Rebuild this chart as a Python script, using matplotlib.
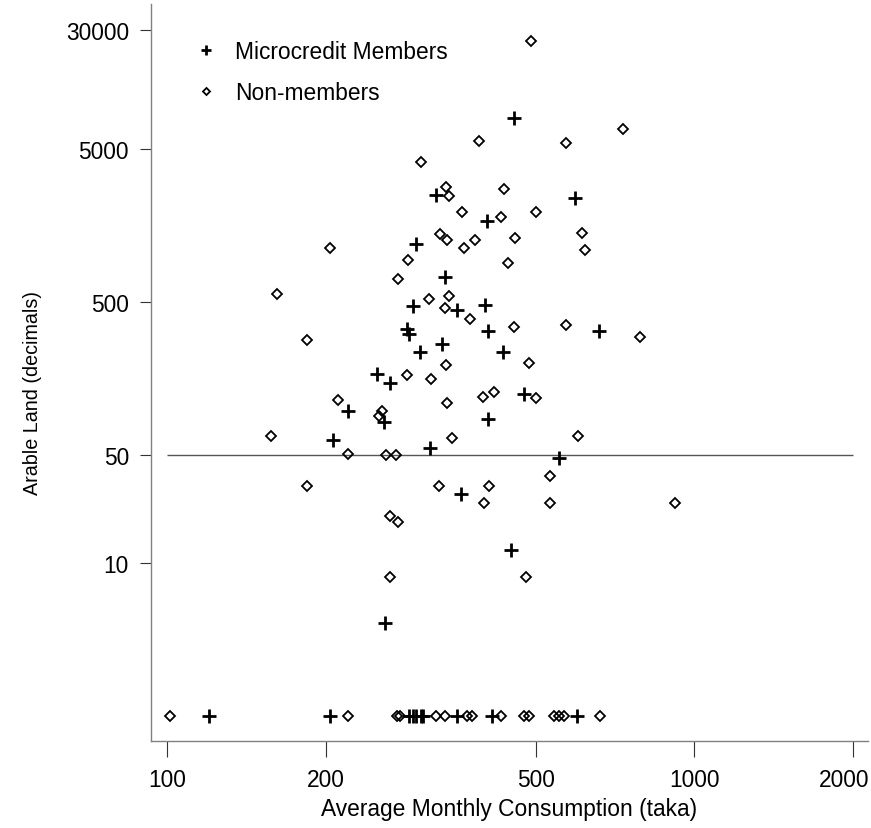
import matplotlib
matplotlib.use("Agg")
import matplotlib.pyplot as plt
import matplotlib.transforms as mtransforms

# households with land (x = consumption, y = arable land)
member_x = [454, 324, 593, 404, 297, 336, 292, 354, 401, 285, 288, 406, 659, 332,
            302, 434, 250, 265, 476, 220, 258, 406, 206, 315, 553, 361, 449, 259]
member_y = [8000, 2500, 2400, 1700, 1200, 730, 472, 445, 477, 336, 311, 326, 326, 266,
            238, 238, 171, 148, 126, 97, 83, 86, 63, 56, 48.5, 28, 12, 4]
# landless members (shown on the bottom row)
member_zero_x = [120, 204, 287, 292, 296, 303, 306, 354, 413, 600]

nonmember_x = [490, 731, 391, 571, 303, 338, 343, 436, 363, 500, 430, 329, 340, 383,
               457, 612, 204, 366, 621, 286, 444, 274, 161.5, 314, 343, 336, 376, 454,
               571, 790, 184, 485, 338, 285, 317, 211, 255.5, 252, 340, 398, 417, 500,
               157, 347, 602, 220, 260, 272, 184, 327.5, 407, 533, 399, 533, 919, 265,
               274, 265, 480]
nonmember_y = [25500, 6800, 5700, 5500, 4100, 2850, 2460, 2765, 1957, 1957, 1793, 1390,
               1270, 1273, 1309, 1426, 1135, 1131, 1101, 951, 899, 712, 566, 527, 554,
               462, 388, 346, 358, 299, 283, 200, 195, 168, 159, 116, 97.5, 90, 110, 120,
               130, 119, 67, 65, 67, 51.5, 50, 50, 31.6, 31.6, 31.6, 36.5, 24.3, 24.3,
               24.3, 20, 18.3, 8, 8]
nonmember_zero_x = [101, 220, 273, 276, 323, 336, 370, 378, 430, 476, 486, 542, 554, 566, 663]
ZERO_LAND = 1  # value used to show zero land on the log axis

x_ticks = [100, 200, 500, 1000, 2000]
y_ticks = [10, 50, 500, 5000, 30000]

plt.rcParams["font.family"] = ["Liberation Sans", "DejaVu Sans"]
plt.rcParams["font.size"] = 16.4

fig = plt.figure(figsize=(8.71, 8.29), dpi=100)
ax = fig.add_axes([150.7 / 871, 86.7 / 829, (868 - 150.7) / 871, (824 - 86.7) / 829])

plus_style = dict(linestyle="none", marker="+", markersize=9.4, markeredgewidth=2.0, color="black")
diam_style = dict(linestyle="none", marker="D", markersize=5.0, markeredgewidth=1.3,
                  markerfacecolor="none", markeredgecolor="black")

ax.plot(member_x, member_y, label="Microcredit Members", **plus_style)
ax.plot(nonmember_x, nonmember_y, label="Non-members", **diam_style)
ax.plot(member_zero_x, [ZERO_LAND] * len(member_zero_x), **plus_style)
ax.plot(nonmember_zero_x, [ZERO_LAND] * len(nonmember_zero_x), **diam_style)

ax.hlines(50, 100, 2000, color="#555555", linewidth=1.0, zorder=1)

ax.set_xscale("log")
ax.set_yscale("log")
ax.set_xlim(93.0, 2137)
ax.set_ylim(0.68, 44400)
ax.set_xticks(x_ticks)
ax.set_xticklabels([str(t) for t in x_ticks])
ax.set_yticks(y_ticks)
ax.set_yticklabels([str(t) for t in y_ticks])
ax.minorticks_off()

for side in ["top", "right"]:
    ax.spines[side].set_visible(False)
for side in ["left", "bottom"]:
    ax.spines[side].set_color("#808080")
    ax.spines[side].set_linewidth(1.0)

ax.tick_params(axis="x", length=11.5, width=0.8, color="#333333", pad=8)
ax.tick_params(axis="y", length=7.7, width=0.8, color="#333333", pad=8)

# last x label is nudged left so it stays inside the figure
last = ax.get_xticklabels()[-1]
last.set_transform(last.get_transform()
                   + mtransforms.ScaledTranslation(-9 / 100, 0, fig.dpi_scale_trans))

ax.set_xlabel("Average Monthly Consumption (taka)", labelpad=4)
ax.set_ylabel("Arable Land (decimals)", fontsize=14.2)
ax.yaxis.set_label_coords(-0.152, 0.474)

ax.legend(loc="upper left", bbox_to_anchor=(197 / 871, (829 - 41) / 829),
          bbox_transform=fig.transFigure, frameon=False, markerscale=0.72,
          handlelength=0.8, handletextpad=0.88, labelspacing=0.8,
          borderpad=0, borderaxespad=0)

fig.savefig("out.png", dpi=100)
